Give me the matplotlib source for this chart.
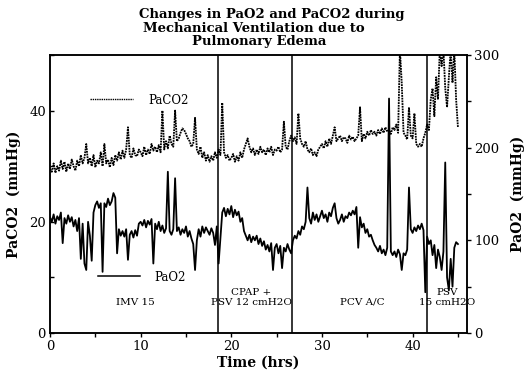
import numpy as np
import matplotlib
matplotlib.use("Agg")
import matplotlib.pyplot as plt
from matplotlib.lines import Line2D

# ---- data (sampled every 0.2 h from t = 0) ----
t_start, t_step = 0.0, 0.2

paco2 = [
    29.5, 29, 30.5, 28.8, 30, 29.2, 31, 29.5, 30.8, 29,
    30.5, 29.5, 31.2, 30, 29.2, 31, 30, 32, 30.5, 31.5,
    34, 30.5, 31.5, 30, 32, 29.8, 31, 30.5, 32.5, 30,
    34, 30.5, 31.2, 29.8, 31.5, 30.2, 32, 31, 32.5, 31.2,
    32.8, 31.5, 33, 37, 32, 31.5, 33.2, 32, 31.8, 33,
    32.5, 31.8, 33.5, 32, 33, 32.2, 34, 32.8, 33.5, 32.5,
    33.8, 32.5, 40, 33, 34.5, 33.2, 35.5, 34, 33.5, 40,
    34.5, 35, 36, 36.8, 36.5, 35.8, 35, 34.5, 33.5, 34,
    38.7, 33, 32.2, 33.5, 31.5, 32.5, 31, 32, 30.8, 31.8,
    31, 32.5, 31.5, 33, 32, 41.4, 32.5, 31.5, 32, 31,
    31.5, 32.2, 30.8, 31.8, 31, 32.5, 31.5, 33, 34, 35,
    33.5, 32.5, 33.2, 32, 33, 32.2, 33.5, 32.5, 33, 32,
    33.2, 32.5, 33.5, 32, 33, 32.8, 33.5, 32.5, 33, 38,
    33.5, 33, 34.5, 35.5, 34.5, 35.2, 34, 39.5, 35, 34,
    33.5, 34.5, 33, 32.5, 33.2, 32, 32.5, 31.8, 33, 33.5,
    34, 33.2, 34.5, 33.5, 35, 34, 35.5, 37, 34.5, 35,
    35.5, 34.5, 35.2, 35, 34.2, 35.5, 34.8, 35.3, 34.5, 35,
    35.5, 40.6, 34.5, 35.8, 35, 36.2, 35.5, 36.5, 35.8, 36.2,
    35.5, 36.5, 35.8, 36.8, 36, 37, 36.2, 36.5, 35.8, 37,
    36.5, 37.5, 36, 51, 45, 36, 35.5, 34.8, 40.6, 35.5,
    35, 39.5, 34, 33.5, 34, 33.5, 35, 36, 37.5, 36.5,
    42, 44, 39, 46, 42, 51, 48, 51, 44, 40.6,
    46, 51, 45, 51, 42, 37,
]

pao2 = [
    125, 120, 128, 118, 126, 122, 130, 97, 124, 118,
    127, 120, 125, 115, 122, 110, 124, 80, 118, 75,
    68, 120, 105, 78, 130, 138, 142, 135, 140, 66,
    140, 136, 145, 138, 142, 151, 146, 86, 112, 105,
    110, 104, 112, 79, 106, 110, 103, 111, 105, 118,
    120, 116, 122, 114, 121, 117, 123, 75, 118, 112,
    120, 110, 116, 108, 113, 174, 110, 106, 112, 167,
    110, 114, 106, 112, 108, 115, 104, 110, 102, 96,
    68, 100, 112, 104, 115, 108, 114, 110, 106, 113,
    108, 95, 115, 75, 102, 130, 135, 126, 134, 128,
    137, 125, 133, 127, 131, 120, 124, 110, 105, 100,
    106, 98, 104, 100, 105, 96, 102, 94, 99, 90,
    95, 88, 97, 68, 92, 96, 86, 94, 70, 92,
    88, 96, 90, 86, 100, 105, 102, 110, 106, 115,
    112, 120, 157, 124, 118, 130, 122, 128, 120, 126,
    132, 124, 128, 120, 130, 126, 135, 140, 124, 118,
    122, 128, 120, 126, 124, 130, 127, 132, 128, 136,
    92, 125, 114, 118, 108, 112, 104, 106, 100, 95,
    92, 88, 94, 86, 90, 84, 92, 253, 88, 84,
    88, 82, 90, 85, 68, 86, 84, 90, 157, 112,
    108, 114, 110, 116, 112, 118, 111, 44, 104, 96,
    100, 84, 95, 70, 90, 82, 68, 88, 184, 60,
    46, 80, 50, 92, 98, 96,
]

mode_changes = [18.5, 26.7, 41.6]
mode_labels = ["IMV 15", "CPAP +\nPSV 12 cmH2O", "PCV A/C", "PSV\n15 cmH2O"]
mode_label_x = [9.4, 22.2, 34.5, 43.8]

time = t_start + t_step * np.arange(len(paco2))
time2 = t_start + t_step * np.arange(len(pao2))

SERIF = "DejaVu Serif"
plt.rcParams["font.family"] = SERIF

fig = plt.figure(figsize=(5.31, 3.74), dpi=100)
ax = fig.add_axes([50/531, 41/374, 417/531, 278/374])
ax2 = ax.twinx()

ax.plot(time, paco2, color="black", lw=1.3, linestyle=(0, (1, 0.5)))
ax2.plot(time2, pao2, color="black", lw=1.3)

for x in mode_changes:
    ax.axvline(x, color="black", lw=1.1)

ax.set_xlim(0, 46)
ax.set_ylim(0, 50)
ax2.set_ylim(0, 300)

ax.set_xticks([0, 10, 20, 30, 40])
ax.set_xticks([5, 15, 25, 35, 45], minor=True)
ax.set_yticks([0, 20, 40])
ax.set_yticks([10, 30, 50], minor=True)
ax2.set_yticks([0, 100, 200, 300])
ax2.set_yticks([50, 150, 250], minor=True)

ax.tick_params(axis="x", which="both", direction="out", length=3, width=1, labelsize=9.5, pad=2)
ax.tick_params(axis="y", which="both", direction="in", length=3, width=1, labelsize=9.5, pad=3)
ax2.tick_params(axis="y", which="both", direction="out", length=3, width=1, labelsize=9.5, pad=2)

for a in (ax, ax2):
    for s in a.spines.values():
        s.set_linewidth(1.1)

ax.set_xlabel("Time (hrs)", fontsize=10, fontweight="bold", labelpad=2)
ax.set_ylabel("PaCO2  (mmHg)", fontsize=10, fontweight="bold", labelpad=6)
ax2.set_ylabel("PaO2  (mmHg)", fontsize=10, fontweight="bold", rotation=90, labelpad=8)

for lab, x in zip(mode_labels, mode_label_x):
    ax.text(x, 4.7, lab, ha="center", va="bottom", fontsize=7.5, linespacing=1.1)

h1 = Line2D([], [], color="black", lw=1.0, linestyle=(0, (1, 0.6)))
h2 = Line2D([], [], color="black", lw=1.1)
ax.legend([h1], ["PaCO2"], loc="center left", bbox_to_anchor=(0.096, 0.838),
          frameon=False, handlelength=3.6, handletextpad=1.3, borderpad=0,
          borderaxespad=0, fontsize=8.5)
ax2.legend([h2], ["PaO2"], loc="center left", bbox_to_anchor=(0.115, 0.201),
           frameon=False, handlelength=3.6, handletextpad=1.2, borderpad=0,
           borderaxespad=0, fontsize=8.5)

fig.text(0.511, 0.960, "Changes in PaO2 and PaCO2 during", ha="center", va="center",
         fontsize=9.5, fontweight="bold")
fig.text(0.478, 0.925, "Mechanical Ventilation due to", ha="center", va="center",
         fontsize=9.5, fontweight="bold")
fig.text(0.488, 0.888, "Pulmonary Edema", ha="center", va="center",
         fontsize=9.5, fontweight="bold")

fig.savefig("out.png", dpi=100)
